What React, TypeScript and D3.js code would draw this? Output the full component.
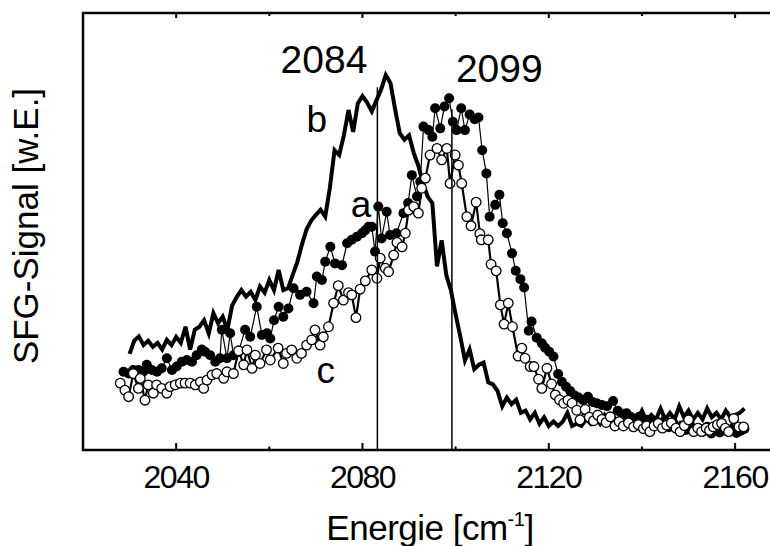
import React, { useRef, useEffect } from "react";
import * as d3 from "d3";

const W = 770;
const H = 546;

// spectrum b (thick line), one value per cm-1 starting at 2030
const bStart = 2030;
const seriesB = [
  22, 25, 26, 24, 25, 23.6, 24.5, 23, 25.2, 24,
  25.9, 24.5, 28.2, 23, 27.5, 28.2, 29.7, 26.7, 31.3, 29,
  30.5, 27.5, 33, 35, 36.6, 35.1, 36.2, 34.3, 37.4, 36,
  38.9, 36.6, 41.2, 36.6, 37, 40, 43, 47, 50.5, 52.5,
  53.8, 55, 53.4, 60, 68.6, 67.5, 72, 77.8, 72.8, 79.3,
  81, 79.5, 77.5, 80, 82.5, 85.8, 84, 78, 72.5, 71,
  72, 68, 65, 61, 58, 56.5, 42, 48, 40, 36.5,
  31, 26, 20.5, 23, 18.5, 19.5, 20, 15.5, 15, 13.5,
  10, 12, 10.5, 11.5, 8.5, 9, 7, 8.5, 6, 7.5,
  5.5, 6.5, 5.5, 6.5, 8.5, 5.5, 6, 5.5, 7, 6,
  7.5, 6, 8, 6.5, 7.5, 6, 8.5, 6.5, 8, 7,
  9, 6.5, 8, 7, 9.5, 7, 8.5, 7, 10, 7.5,
  9, 7, 8.5, 7, 9.5, 7.5, 8.5, 7, 9, 7.5,
  8, 8.5, 9.5,
];

// spectrum a (filled circles): [wavenumber, signal]
const seriesA: [number, number][] = [
  [2028.7, 17.9], [2029.8, 17.5], [2030.8, 18.3], [2031.9, 18.3], [2033.0, 18.0],
  [2033.7, 19.5], [2034.8, 18.3], [2035.9, 17.9], [2036.9, 18.7], [2038.0, 21.0],
  [2039.1, 18.3], [2040.1, 19.1], [2041.2, 20.2], [2042.3, 20.6], [2043.4, 20.2],
  [2044.4, 21.7], [2045.5, 23.0], [2046.2, 22.5], [2047.3, 21.7], [2048.4, 20.2],
  [2049.4, 21.0], [2049.8, 27.5], [2050.9, 21.0], [2051.6, 26.7], [2052.3, 21.7],
  [2053.4, 22.5], [2054.8, 27.5], [2055.9, 25.9], [2057.3, 32.8], [2058.4, 26.3],
  [2059.5, 26.7], [2060.2, 25.5], [2061.0, 29.7], [2062.0, 32.8], [2063.0, 30.5],
  [2064.1, 32.4], [2065.2, 37.0], [2066.6, 35.5], [2068.0, 36.2], [2069.5, 33.6],
  [2070.2, 39.7], [2071.3, 38.9], [2072.0, 43.1], [2073.1, 46.5], [2074.1, 42.7],
  [2075.6, 42.3], [2076.7, 47.3], [2077.7, 48.1], [2078.8, 48.8], [2079.9, 49.6],
  [2080.6, 50.3], [2081.3, 51.1], [2082.0, 51.1], [2082.7, 45.4], [2083.4, 55.7],
  [2084.1, 48.4], [2085.2, 54.5], [2085.9, 49.2], [2087.3, 49.6], [2088.8, 54.2],
  [2089.8, 56.5], [2090.6, 62.9], [2091.7, 58.0], [2092.4, 61.4], [2093.1, 74.0],
  [2094.2, 73.2], [2095.0, 71.7], [2095.6, 78.2], [2096.7, 73.6], [2097.6, 78.6],
  [2098.6, 80.5], [2099.4, 75.1], [2100.2, 73.2], [2101.2, 78.2], [2102.0, 73.2],
  [2103.0, 76.8], [2104.1, 75.7], [2104.9, 76.1], [2105.7, 68.6], [2106.6, 63.3],
  [2107.3, 53.4], [2108.5, 56.1], [2109.4, 58.4], [2110.1, 51.9], [2111.0, 49.6],
  [2112.1, 45.0], [2112.9, 41.0], [2113.9, 39.1], [2114.7, 37.2], [2115.7, 27.3],
  [2116.3, 29.4], [2117.4, 25.7], [2118.5, 24.4], [2119.2, 23.4], [2120.1, 22.5],
  [2121.0, 21.4], [2122.0, 17.4], [2122.8, 15.6], [2123.7, 14.5], [2124.6, 13.5],
  [2125.5, 12.5], [2126.4, 12.0], [2127.4, 11.4], [2128.4, 12.2], [2129.4, 11.0],
  [2130.3, 10.7], [2131.4, 10.3], [2132.5, 10.0], [2133.8, 11.2], [2134.8, 9.0],
  [2135.8, 8.0], [2136.7, 8.4], [2137.6, 7.5], [2138.5, 6.8], [2139.4, 7.6],
  [2140.3, 6.2], [2141.2, 6.9], [2142.1, 5.8], [2143.0, 6.6], [2144.0, 5.5],
  [2144.9, 6.8], [2145.8, 5.2], [2146.7, 6.2], [2147.6, 5.0], [2148.5, 5.6],
  [2149.4, 4.6], [2150.3, 5.8], [2151.2, 4.4], [2152.1, 5.0], [2153.0, 4.2],
  [2154.0, 5.3], [2154.9, 3.8], [2155.8, 4.6], [2156.7, 4.0], [2157.6, 5.2],
  [2158.5, 4.2], [2159.4, 4.8], [2160.3, 3.9], [2161.2, 4.4], [2162.0, 4.8],
];

// spectrum c (open circles): [wavenumber, signal]
const seriesC: [number, number][] = [
  [2028.0, 15.3], [2029.0, 13.7], [2029.8, 12.2], [2030.8, 17.5], [2031.9, 14.1],
  [2032.3, 16.4], [2033.3, 11.4], [2034.0, 14.9], [2035.1, 13.0], [2035.8, 14.9],
  [2036.9, 14.1], [2038.0, 13.0], [2038.7, 14.5], [2039.8, 14.9], [2040.9, 15.3],
  [2041.9, 15.3], [2043.0, 15.3], [2044.1, 14.9], [2045.2, 15.6], [2045.9, 14.1],
  [2046.6, 16.0], [2047.7, 17.2], [2048.7, 17.5], [2050.2, 16.4], [2050.9, 17.9],
  [2052.3, 17.5], [2053.4, 22.7], [2054.5, 19.5], [2055.2, 22.9], [2056.3, 18.7],
  [2057.0, 21.7], [2058.0, 19.8], [2059.4, 22.9], [2060.2, 20.6], [2061.9, 23.3],
  [2063.0, 19.8], [2063.7, 22.1], [2064.8, 22.9], [2065.9, 21.0], [2066.9, 22.1],
  [2068.0, 24.0], [2069.1, 25.2], [2069.8, 27.5], [2070.9, 24.0], [2071.6, 25.9],
  [2072.7, 28.2], [2073.8, 33.6], [2074.8, 37.6], [2075.9, 34.3], [2077.0, 36.0],
  [2077.7, 35.5], [2078.6, 30.3], [2079.5, 36.8], [2080.6, 38.7], [2082.0, 41.2],
  [2083.1, 39.3], [2083.8, 43.9], [2084.9, 41.6], [2085.6, 40.8], [2086.7, 44.6],
  [2087.4, 47.5], [2088.5, 46.5], [2089.2, 49.6], [2089.9, 54.9], [2091.0, 55.7],
  [2092.0, 54.2], [2092.7, 59.9], [2093.5, 62.2], [2094.5, 67.5], [2096.0, 69.0],
  [2097.0, 66.4], [2098.1, 69.0], [2098.8, 61.0], [2099.9, 67.5], [2100.6, 65.2],
  [2101.3, 61.0], [2102.4, 53.4], [2103.3, 51.3], [2104.4, 56.7], [2105.2, 49.5],
  [2105.5, 48.1], [2107.0, 48.1], [2107.6, 42.5], [2108.7, 41.0], [2109.6, 33.2],
  [2110.4, 28.8], [2111.3, 33.6], [2112.2, 28.2], [2113.4, 21.5], [2114.2, 23.3],
  [2114.9, 21.0], [2116.0, 19.1], [2116.8, 19.1], [2117.8, 16.2], [2118.5, 14.1],
  [2119.6, 18.7], [2120.6, 15.1], [2121.4, 12.6], [2122.3, 11.5], [2123.2, 10.7],
  [2124.1, 11.4], [2125.0, 10.7], [2126.0, 9.1], [2126.7, 6.9], [2127.8, 9.3],
  [2128.7, 7.5], [2129.6, 6.7], [2130.5, 8.0], [2131.4, 7.0], [2132.3, 6.3],
  [2133.2, 7.6], [2134.2, 5.5], [2135.1, 6.5], [2136.0, 5.5], [2137.1, 6.2],
  [2138.2, 5.3], [2139.2, 5.8], [2140.3, 4.9], [2141.0, 5.5], [2141.7, 4.2],
  [2142.6, 5.5], [2143.5, 6.1], [2144.4, 5.0], [2145.3, 5.7], [2146.3, 6.2],
  [2147.3, 5.0], [2148.2, 4.2], [2149.1, 5.6], [2150.0, 6.9], [2151.1, 4.2],
  [2152.0, 5.0], [2152.8, 4.2], [2153.8, 5.0], [2154.5, 4.5], [2155.3, 5.3],
  [2156.2, 5.8], [2157.1, 6.1], [2157.9, 5.0], [2158.6, 4.2], [2159.7, 7.2],
  [2160.8, 5.3], [2161.8, 5.3],
];

const xTicks = [2040, 2080, 2120, 2160];
const xMinorTicks = [2060, 2100, 2140];
const markers = [
  { pos: 2083.2, label: "2084", top: 83, side: "left" },
  { pos: 2099.2, label: "2099", top: 78, side: "right" },
];
const curveLabels = [
  { text: "b", x: 2070.2, y: 72.8 },
  { text: "a", x: 2079.7, y: 53.4 },
  { text: "c", x: 2072.1, y: 15.3 },
];

const FONT = "'Liberation Sans', Arial, sans-serif";

const App = () => {
  const svgRef = useRef(null);

  useEffect(() => {
    const svg = d3.select(svgRef.current);
    svg.selectAll("*").remove();

    const left = 83;
    const bottom = 450;
    const top = 13;
    const x = d3.scaleLinear().domain([2020, 2170]).range([left, left + 150 * 4.658]);
    const y = d3.scaleLinear().domain([0, 100]).range([bottom, top]);

    // spectrum b
    const bPts: [number, number][] = seriesB.map((v, i) => [bStart + i, v]);
    const line = d3
      .line<[number, number]>()
      .x((d) => x(d[0]))
      .y((d) => y(d[1]));

    svg
      .append("path")
      .datum(bPts)
      .attr("fill", "none")
      .attr("stroke", "#000")
      .attr("stroke-width", 4)
      .attr("stroke-linejoin", "miter")
      .attr("d", line);

    // spectrum a
    svg
      .append("path")
      .datum(seriesA)
      .attr("fill", "none")
      .attr("stroke", "#000")
      .attr("stroke-width", 1.2)
      .attr("d", line);
    svg
      .append("g")
      .selectAll("circle")
      .data(seriesA)
      .join("circle")
      .attr("cx", (d) => x(d[0]))
      .attr("cy", (d) => y(d[1]))
      .attr("r", 5)
      .attr("fill", "#000");

    // spectrum c
    svg
      .append("path")
      .datum(seriesC)
      .attr("fill", "none")
      .attr("stroke", "#000")
      .attr("stroke-width", 2.2)
      .attr("d", line);
    svg
      .append("g")
      .selectAll("circle")
      .data(seriesC)
      .join("circle")
      .attr("cx", (d) => x(d[0]))
      .attr("cy", (d) => y(d[1]))
      .attr("r", 4.8)
      .attr("fill", "#fff")
      .attr("stroke", "#000")
      .attr("stroke-width", 1.3);

    // peak markers
    markers.forEach((m) => {
      svg
        .append("line")
        .attr("x1", x(m.pos))
        .attr("x2", x(m.pos))
        .attr("y1", y(m.top))
        .attr("y2", bottom)
        .attr("stroke", "#000")
        .attr("stroke-width", 1.5);
      svg
        .append("text")
        .attr("x", m.side === "left" ? x(m.pos) - 10 : x(m.pos) + 4)
        .attr("y", m.side === "left" ? 73 : 82)
        .attr("text-anchor", m.side === "left" ? "end" : "start")
        .style("font-family", FONT)
        .style("font-size", "39px")
        .text(m.label);
    });

    // curve labels
    curveLabels.forEach((c) => {
      svg
        .append("text")
        .attr("x", x(c.x))
        .attr("y", y(c.y))
        .attr("text-anchor", "middle")
        .style("font-family", FONT)
        .style("font-size", "37px")
        .text(c.text);
    });

    // frame
    const right = x(2170);
    svg
      .append("path")
      .attr("d", `M${right},${top}H${left}V${bottom}H${right}`)
      .attr("fill", "none")
      .attr("stroke", "#000")
      .attr("stroke-width", 2.5);

    // ticks (bottom and top, pointing inward)
    xTicks.forEach((t) => {
      svg.append("line").attr("x1", x(t)).attr("x2", x(t)).attr("y1", bottom).attr("y2", bottom - 7).attr("stroke", "#000").attr("stroke-width", 2);
      svg.append("line").attr("x1", x(t)).attr("x2", x(t)).attr("y1", top).attr("y2", top + 5).attr("stroke", "#000").attr("stroke-width", 2);
    });
    xMinorTicks.forEach((t) => {
      svg.append("line").attr("x1", x(t)).attr("x2", x(t)).attr("y1", bottom).attr("y2", bottom - 3.5).attr("stroke", "#000").attr("stroke-width", 2);
      svg.append("line").attr("x1", x(t)).attr("x2", x(t)).attr("y1", top).attr("y2", top + 3).attr("stroke", "#000").attr("stroke-width", 2);
    });

    // tick labels
    svg
      .append("g")
      .selectAll("text")
      .data(xTicks)
      .join("text")
      .attr("x", (d) => x(d))
      .attr("y", 488)
      .attr("text-anchor", "middle")
      .style("font-family", FONT)
      .style("font-size", "32px")
      .style("letter-spacing", "-1.5px")
      .text((d) => d);

    // axis titles
    const xt = svg
      .append("text")
      .attr("x", 430)
      .attr("y", 540)
      .attr("text-anchor", "middle")
      .style("font-family", FONT)
      .style("font-size", "35px")
      .style("letter-spacing", "-0.5px");
    xt.append("tspan").text("Energie [cm");
    xt.append("tspan").attr("dy", -14).style("font-size", "20px").text("-1");
    xt.append("tspan").attr("dy", 14).text("]");

    svg
      .append("text")
      .attr("transform", `translate(38, 226) rotate(-90)`)
      .attr("text-anchor", "middle")
      .style("font-family", FONT)
      .style("font-size", "35px")
      .text("SFG-Signal [w.E.]");
  }, []);

  return (
    <svg
      ref={svgRef}
      width={W}
      height={H}
      style={{ position: "absolute", left: 0, top: 0, background: "#fff" }}
    />
  );
};

export default App;
